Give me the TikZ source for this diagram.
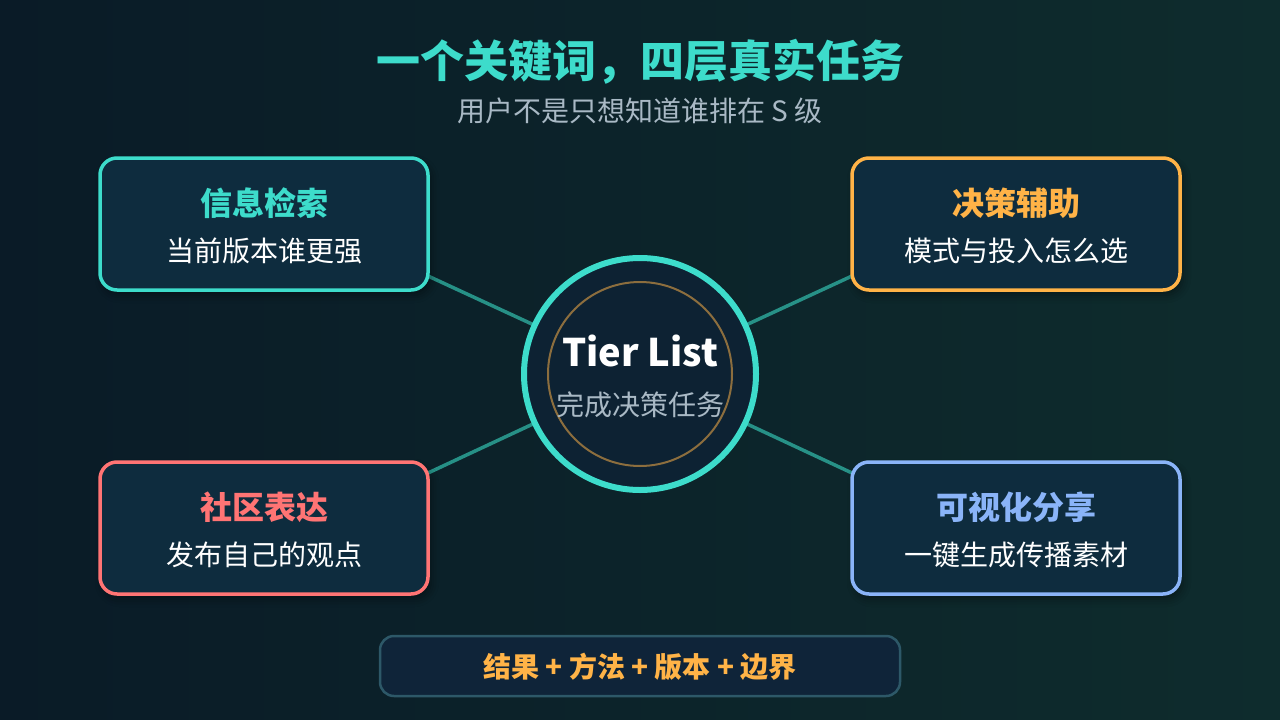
\documentclass[tikz,border=0pt]{standalone}
\usepackage{fontspec}
\setmainfont{Noto Sans CJK SC}
\usetikzlibrary{shadows.blur}
\definecolor{teal}{HTML}{3DDCCB}
\definecolor{orng}{HTML}{FFB347}
\definecolor{redc}{HTML}{FF7474}
\definecolor{bluec}{HTML}{8AB4F8}
\definecolor{boxfill}{HTML}{0E2C3E}
\definecolor{bgl}{HTML}{0A1B27}
\definecolor{bgr}{HTML}{0E2C2D}
\definecolor{linec}{HTML}{2A9D91}
\definecolor{subgray}{HTML}{A9B9C5}
\definecolor{ringin}{HTML}{8C6E3E}
\definecolor{circfill}{HTML}{0D2233}
\definecolor{barstroke}{HTML}{2D5868}
\definecolor{barfill}{HTML}{0F2439}
\tikzset{
  card/.style={draw, line width=3.5pt, rounded corners=17pt, fill=boxfill, minimum width=328pt, minimum height=132pt, blur shadow={shadow xshift=3pt, shadow yshift=-5pt, shadow blur radius=8pt, shadow opacity=40}},
  cardtitle/.style={font=\bfseries\fontsize{32}{32}\selectfont, anchor=center},
  cardsub/.style={font=\fontsize{28}{28}\selectfont, text=white, anchor=center},
  conn/.style={draw=linec, line width=3.5pt, opacity=0.9},
}
\begin{document}
\begin{tikzpicture}[x=1pt,y=-1pt]
\useasboundingbox (0,0) rectangle (1280,720);
\shade[left color=bgl, right color=bgr] (0,0) rectangle (1280,720);
% connectors
\coordinate (ctr) at (640,374);
\coordinate (tl) at (428,276);
\coordinate (tr) at (852,276);
\coordinate (bl) at (428,473);
\coordinate (br) at (852,473);
\draw[conn] (tl) -- (ctr);
\draw[conn] (tr) -- (ctr);
\draw[conn] (bl) -- (ctr);
\draw[conn] (br) -- (ctr);
% title
\node[font=\bfseries\fontsize{44}{44}\selectfont, text=teal] (title) at (640,62) {一个关键词，四层真实任务};
\node[font=\fontsize{28}{28}\selectfont, text=subgray] (subtitle) at (640,111) {用户不是只想知道谁排在 S 级};
% cards
\node[card, draw=teal] (c1) at (264,224) {};
\node[cardtitle, text=teal] (c1t) at (264,203) {信息检索};
\node[cardsub] (c1s) at (264,251) {当前版本谁更强};
\node[card, draw=orng] (c2) at (1016,224) {};
\node[cardtitle, text=orng] (c2t) at (1016,203) {决策辅助};
\node[cardsub] (c2s) at (1016,251) {模式与投入怎么选};
\node[card, draw=redc] (c3) at (264,528) {};
\node[cardtitle, text=redc] (c3t) at (264,507) {社区表达};
\node[cardsub] (c3s) at (264,555) {发布自己的观点};
\node[card, draw=bluec] (c4) at (1016,528) {};
\node[cardtitle, text=bluec] (c4t) at (1016,507) {可视化分享};
\node[cardsub] (c4s) at (1016,555) {一键生成传播素材};
% center
\node[circle, draw=teal, line width=6pt, fill=circfill, minimum size=232pt, inner sep=0pt] (hub) at (ctr) {};
\node[circle, draw=ringin, line width=2pt, minimum size=184pt, inner sep=0pt] (ring) at (ctr) {};
\node[font=\bfseries\fontsize{38}{38}\selectfont, text=white] (hubt) at (640,351) {Tier List};
\node[font=\fontsize{28}{28}\selectfont, text=subgray] (hubs) at (640,405) {完成决策任务};
% bottom bar
\node[draw=barstroke, line width=2.5pt, fill=barfill, rounded corners=14pt, minimum width=520pt, minimum height=60pt] (bar) at (640,666) {};
\node[font=\bfseries\fontsize{28}{28}\selectfont, text=orng] (bart) at (640,667) {结果 + 方法 + 版本 + 边界};
\end{tikzpicture}
\end{document}
